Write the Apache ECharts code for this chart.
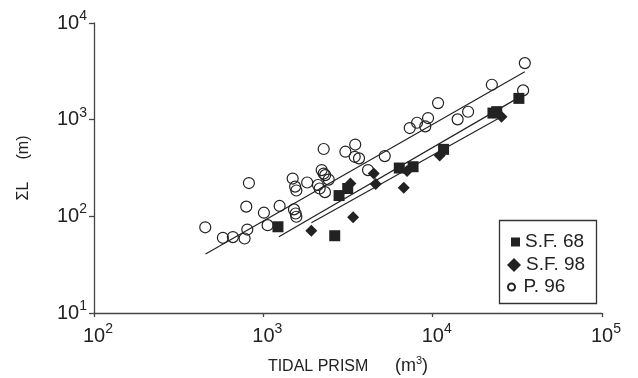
<!DOCTYPE html>
<html><head><meta charset="utf-8">
<script src="https://cdn.jsdelivr.net/npm/echarts@6/dist/echarts.min.js"></script>
<style>html,body{margin:0;padding:0;background:#fff}#c{width:638px;height:378px}</style>
</head><body><div id="c"></div><script>
// S.F. 68 (tidal prism m3, sum L m)
const sf68 = [[1220,78],[2640,63],[2800,164],[3150,194],[6350,316],[7660,326],[11600,493],[22700,1170],[23900,1210],[32300,1660]];
// S.F. 98
const sf98 = [[1920,71],[3390,98],[3270,219],[4490,277],[4610,216],[6750,198],[7060,294],[11000,425],[25500,1070]];
// P. 96
const p96 = [[454,77],[577,60],[661,61],[775,59],[804,73],[793,126],[822,221],[1008,109],[1060,81],[1248,128],
  [1490,246],[1541,203],[1567,185],[1517,118],[1552,107],[1567,99],[1815,224],[2102,211],[2151,194],[2312,178],
  [2211,301],[2272,277],[2319,267],[2432,240],[2272,497],[3052,466],[3488,553],[3464,413],[3673,398],[4152,301],
  [5212,420],[7322,819],[8087,929],[9393,1039],[9044,852],[10760,1485],[14040,1007],[16190,1207],[22360,2296],
  [35010,3848],[34210,2009]];
// regression lines (end points)
const fitP96 = [[456,40.7],[35000,3130]];
const fitSF68 = [[1236,61.5],[34100,1795]];
const fitSF98 = [[1923,85.9],[25500,1072]];
// tick labels: value -> exponent
const xTickLabels = {100:'2',1000:'3',10000:'4',100000:'5'};
const yTickLabels = {10:'1',100:'2',1000:'3',10000:'4'};
const names = ['S.F. 68','S.F. 98','P. 96'];

const INK = '#222';
const FONT = 'Liberation Sans';
const rich = {
  a: {fontSize: 20, fontFamily: FONT, color: INK},
  b: {fontSize: 14, fontFamily: FONT, color: INK, padding: [0,0,14,0]}
};
const richX = {
  a: {fontSize: 20, fontFamily: FONT, color: INK, padding: [0,0,0,8]},
  b: {fontSize: 14, fontFamily: FONT, color: INK, padding: [0,0,14,0]}
};
function legendOf(name, left, top, w, h) {
  return {
    data: [name], orient: 'vertical', left: left, top: top, padding: 0,
    itemWidth: w, itemHeight: h, selectedMode: false,
    textStyle: {fontSize: 19, fontFamily: FONT, color: INK, lineHeight: 20}
  };
}
const chart = echarts.init(document.getElementById('c'), null, {renderer: 'canvas'});
chart.setOption({
  animation: false,
  backgroundColor: '#fff',
  grid: {left: 94, right: 36, top: 23, bottom: 65, containLabel: false, outerBoundsMode: 'none'},
  xAxis: {
    type: 'log', logBase: 10, min: 100, max: 100000,
    name: '{n|TIDAL PRISM      }{p|(m}{s|3}{p|)}', nameLocation: 'middle', nameGap: 42,
    nameTextStyle: {rich: {
      n: {fontSize: 16, fontFamily: FONT, color: INK},
      p: {fontSize: 18, fontFamily: FONT, color: INK},
      s: {fontSize: 11, fontFamily: FONT, color: INK, padding: [0,0,12,0]}
    }},
    axisLine: {lineStyle: {color: '#444', width: 1.3}},
    axisTick: {inside: false, length: 4, lineStyle: {color: '#444', width: 1.3}},
    minorTick: {show: false},
    splitLine: {show: false},
    axisLabel: {margin: 9, formatter: v => '{a|10}{b|' + xTickLabels[Math.round(v)] + '}', rich: richX}
  },
  yAxis: {
    type: 'log', logBase: 10, min: 10, max: 10000,
    name: 'ΣL     (m)', nameLocation: 'middle', nameGap: 62,
    nameTextStyle: {fontSize: 16, fontFamily: FONT, color: INK},
    axisLine: {show: true, lineStyle: {color: '#444', width: 1.3}},
    axisTick: {show: true, inside: false, length: 5, lineStyle: {color: '#444', width: 1.3}},
    minorTick: {show: false},
    splitLine: {show: false},
    axisLabel: {margin: 7, formatter: v => '{a|10}{b|' + yTickLabels[Math.round(v)] + '}', rich: rich}
  },
  legend: [
    legendOf(names[0], 511, 232, 9, 9),
    legendOf(names[1], 507, 255, 14, 14),
    legendOf(names[2], 507, 277, 14, 7)
  ],
  graphic: [{
    type: 'rect', shape: {x: 499.5, y: 220.5, width: 97, height: 83},
    style: {fill: 'none', stroke: '#333', lineWidth: 1.3}, silent: true, z: 100
  }],
  series: [
    {type: 'line', data: fitP96, symbol: 'none', silent: true, z: 1, lineStyle: {color: INK, width: 1.2}},
    {type: 'line', data: fitSF68, symbol: 'none', silent: true, z: 1, lineStyle: {color: INK, width: 1.2}},
    {type: 'line', data: fitSF98, symbol: 'none', silent: true, z: 1, lineStyle: {color: INK, width: 1.2}},
    {name: names[0], type: 'scatter', data: sf68, symbol: 'rect', symbolSize: 11, z: 3,
      itemStyle: {color: INK, opacity: 1}},
    {name: names[1], type: 'scatter', data: sf98, symbol: 'diamond', symbolSize: 12, z: 3,
      itemStyle: {color: INK, opacity: 1}},
    {name: names[2], type: 'scatter', data: p96, symbol: 'circle', symbolSize: 11, z: 2,
      itemStyle: {color: 'rgba(0,0,0,0)', borderColor: INK, borderWidth: 1.2, opacity: 1}}
  ]
});
</script></body></html>
